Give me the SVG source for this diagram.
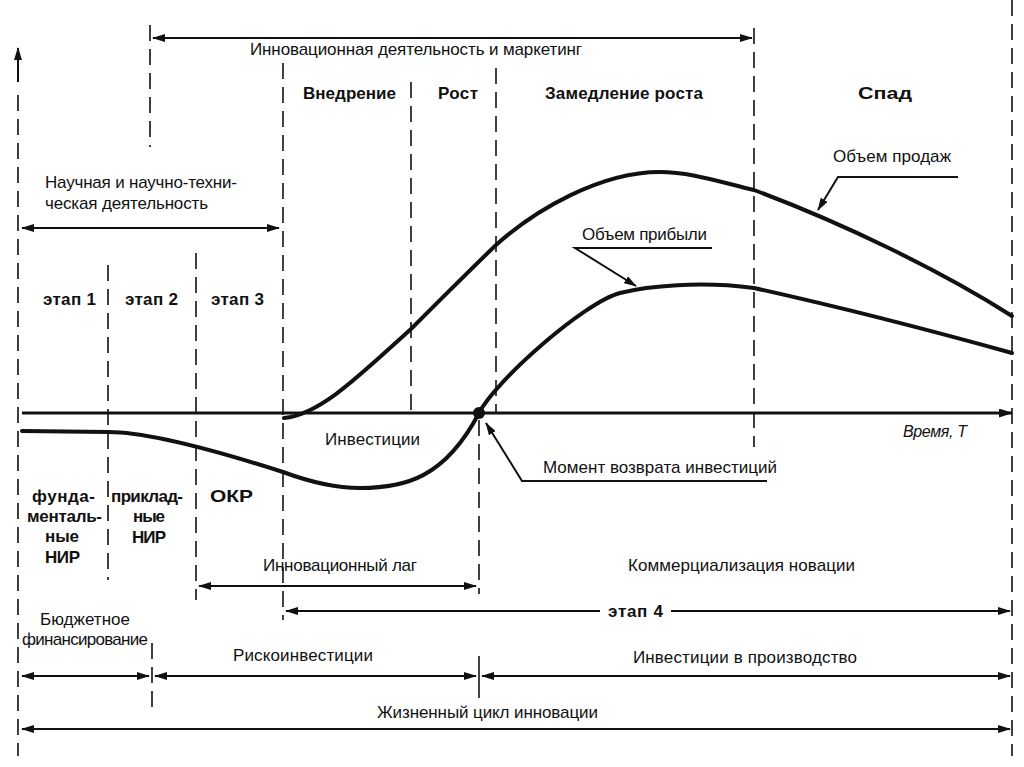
<svg xmlns="http://www.w3.org/2000/svg" width="1024" height="767" viewBox="0 0 1024 767">
<defs>
<marker id="ah" viewBox="0 0 13 8" refX="12" refY="4" markerWidth="13" markerHeight="8" markerUnits="userSpaceOnUse" orient="auto-start-reverse"><path d="M0,0 L13,4 L0,8 z" fill="#111"/></marker>
<marker id="ahb" viewBox="0 0 14 9" refX="13" refY="4.5" markerWidth="14" markerHeight="9" markerUnits="userSpaceOnUse" orient="auto-start-reverse"><path d="M0,0 L14,4.5 L0,9 z" fill="#111"/></marker>
</defs>
<style>
.dash{stroke:#111;stroke-width:1.6;stroke-dasharray:16 8;fill:none}
.tick{stroke:#111;stroke-width:1.6;fill:none}
.arr{stroke:#111;stroke-width:2;fill:none}
.curve{stroke:#111;stroke-width:4;fill:none;stroke-linecap:round;stroke-linejoin:round}
.t{font-family:"Liberation Sans",Arial,sans-serif;font-size:17px;fill:#111}
.b{font-family:"Liberation Sans",Arial,sans-serif;font-size:17px;font-weight:bold;fill:#111}
.i{font-family:"Liberation Sans",Arial,sans-serif;font-size:16px;font-style:italic;fill:#111}
</style>
<rect width="1024" height="767" fill="#fff"/>
<g id="gridlines">
<line class="dash" x1="18" y1="95" x2="18" y2="756"/>
<line class="dash" x1="150" y1="25" x2="150" y2="147"/>
<line class="dash" x1="152" y1="643" x2="152" y2="713"/>
<line class="dash" x1="283" y1="63" x2="283" y2="620"/>
<line class="dash" x1="411" y1="82" x2="411" y2="413"/>
<line class="dash" x1="496" y1="68" x2="496" y2="413"/>
<line class="dash" x1="754" y1="28" x2="754" y2="447"/>
<line class="dash" x1="1012" y1="0" x2="1012" y2="756"/>
<line class="dash" x1="108" y1="265" x2="108" y2="580"/>
<line class="dash" x1="196" y1="253" x2="196" y2="600"/>
<line class="dash" x1="479" y1="420" x2="479" y2="594"/>
<line class="tick" x1="479" y1="656" x2="479" y2="698"/>
</g>
<g id="axes">
<line class="arr" x1="18" y1="82" x2="18" y2="48" marker-end="url(#ah)"/>
<line x1="22" y1="413" x2="1012" y2="413" stroke="#111" stroke-width="3" marker-end="url(#ahb)"/>
</g>
<g id="curves">
<path id="sales" class="curve" d="M284,418 C320,415 360,375 411,329 C440,300 470,270 496,245 C535,210 600,172 660,172 C690,172 720,182 754,190 C840,222 940,270 1012,316"/>
<path id="invest-profit" class="curve" d="M22,431 L108,432 C150,432 230,455 283,472 C310,482 335,488 360,488 C405,488 445,478 479,413 C496,380 585,302 620,293 C648,286 700,281 754,288 C840,307 940,333 1012,353"/>
<circle id="return-point" cx="479" cy="413" r="6" fill="#111"/>
</g>
<g id="connectors">
<line class="arr" x1="153" y1="38" x2="752" y2="38" marker-start="url(#ah)" marker-end="url(#ah)"/>
<line class="arr" x1="22" y1="228" x2="279" y2="228" marker-start="url(#ah)" marker-end="url(#ah)"/>
<line class="arr" x1="199" y1="586" x2="476" y2="586" marker-start="url(#ah)" marker-end="url(#ah)"/>
<line class="arr" x1="286" y1="611" x2="600" y2="611" marker-start="url(#ah)"/>
<line class="arr" x1="671" y1="611" x2="1010" y2="611" marker-end="url(#ah)"/>
<line class="arr" x1="22" y1="676" x2="149" y2="676" marker-start="url(#ah)" marker-end="url(#ah)"/>
<line class="arr" x1="155" y1="676" x2="476" y2="676" marker-start="url(#ah)" marker-end="url(#ah)"/>
<line class="arr" x1="482" y1="676" x2="1010" y2="676" marker-start="url(#ah)" marker-end="url(#ah)"/>
<line class="arr" x1="22" y1="729" x2="1010" y2="729" marker-start="url(#ah)" marker-end="url(#ah)"/>
<polyline class="arr" points="958,177 838,177 818,210" marker-end="url(#ah)"/>
<polyline class="arr" points="712,248 575,248 636,286" marker-end="url(#ah)"/>
<polyline class="arr" points="767,481 522,481 486,423" marker-end="url(#ah)"/>
</g>
<g id="labels">
<text class="t" x="416" y="55" text-anchor="middle" textLength="332">Инновационная деятельность и маркетинг</text>
<text class="b" x="349.5" y="99" text-anchor="middle" textLength="93">Внедрение</text>
<text class="b" x="458" y="99" text-anchor="middle" textLength="40">Рост</text>
<text class="b" x="624" y="99" text-anchor="middle" textLength="158">Замедление роста</text>
<text class="b" x="885" y="99" text-anchor="middle" textLength="54" lengthAdjust="spacingAndGlyphs">Спад</text>
<text class="t" x="892" y="162" text-anchor="middle" textLength="118">Объем продаж</text>
<text class="t" x="644.5" y="240" text-anchor="middle" textLength="125">Объем прибыли</text>
<text class="t" x="45" y="188" textLength="192">Научная и научно-техни-</text>
<text class="t" x="45" y="209" textLength="163">ческая деятельность</text>
<text class="b" x="69.5" y="305" text-anchor="middle" textLength="53">этап 1</text>
<text class="b" x="151.5" y="305" text-anchor="middle" textLength="53">этап 2</text>
<text class="b" x="237.5" y="305" text-anchor="middle" textLength="53">этап 3</text>
<text class="t" x="372.5" y="445" text-anchor="middle" textLength="95">Инвестиции</text>
<text class="i" x="935" y="437" text-anchor="middle" textLength="64">Время, Т</text>
<text class="t" x="660" y="473" text-anchor="middle" textLength="234">Момент возврата инвестиций</text>
<text class="b" x="63.5" y="502" text-anchor="middle" textLength="63">фунда-</text>
<text class="b" x="64.5" y="522" text-anchor="middle" textLength="75">менталь-</text>
<text class="b" x="62" y="542" text-anchor="middle" textLength="34">ные</text>
<text class="b" x="62.5" y="563" text-anchor="middle" textLength="35">НИР</text>
<text class="b" x="147" y="502" text-anchor="middle" textLength="72">приклад-</text>
<text class="b" x="149" y="522" text-anchor="middle" textLength="32">ные</text>
<text class="b" x="149" y="543" text-anchor="middle" textLength="34">НИР</text>
<text class="b" x="231.5" y="502" text-anchor="middle" textLength="43" lengthAdjust="spacingAndGlyphs">ОКР</text>
<text class="t" x="340" y="571" text-anchor="middle" textLength="154">Инновационный лаг</text>
<text class="t" x="741.5" y="571" text-anchor="middle" textLength="227">Коммерциализация новации</text>
<text class="b" x="635.5" y="617" text-anchor="middle" textLength="55">этап 4</text>
<text class="t" x="85" y="625" text-anchor="middle" textLength="90">Бюджетное</text>
<text class="t" x="85" y="645" text-anchor="middle" textLength="126">финансирование</text>
<text class="t" x="303" y="661" text-anchor="middle" textLength="140">Рискоинвестиции</text>
<text class="t" x="745" y="663" text-anchor="middle" textLength="224">Инвестиции в производство</text>
<text class="t" x="487.5" y="718" text-anchor="middle" textLength="221">Жизненный цикл инновации</text>
</g>
</svg>
